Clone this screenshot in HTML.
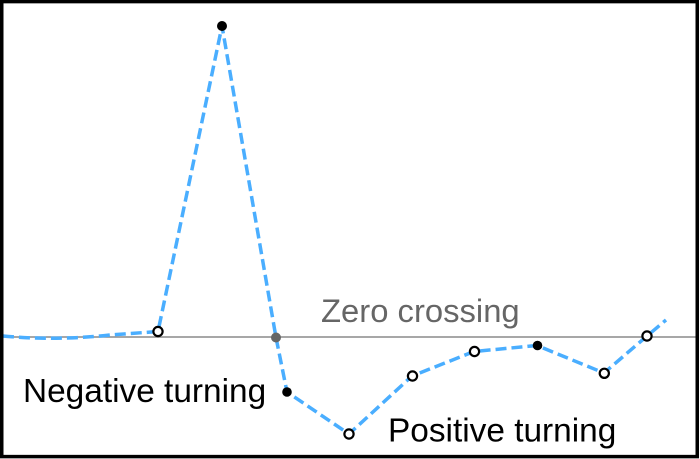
<!DOCTYPE html>
<html>
<head>
<meta charset="utf-8">
<style>
  html, body { margin: 0; padding: 0; background: #ffffff; }
  svg { display: block; }
  text { font-family: "Liberation Sans", Arial, sans-serif; }
</style>
</head>
<body>
<svg width="700" height="459" viewBox="0 0 700 459" xmlns="http://www.w3.org/2000/svg">
  <rect x="0" y="0" width="700" height="459" fill="#ffffff"/>
  <!-- zero line -->
  <line x1="3" y1="337" x2="697" y2="337" stroke="#8a8a8a" stroke-width="1.6"/>
  <!-- series -->
  <path d="M3,336 Q55,341 110,335 L158,331.5 L222,26 L276,337.5 L287,392 L349,434 L412,376 L474,351.5 L537,345.5 L604,373 L647,336 L666,320"
        fill="none" stroke="#4aaeff" stroke-width="3.5" stroke-dasharray="11,5" stroke-linejoin="round"/>
  <!-- markers -->
  <circle cx="158" cy="331.5" r="4.6" fill="#ffffff" stroke="#000" stroke-width="2.2"/>
  <circle cx="222" cy="26" r="5" fill="#000"/>
  <circle cx="276" cy="337.5" r="5" fill="#666"/>
  <circle cx="287" cy="392" r="4.8" fill="#000"/>
  <circle cx="349" cy="434" r="4.6" fill="#ffffff" stroke="#000" stroke-width="2.2"/>
  <circle cx="412.5" cy="376" r="4.6" fill="#ffffff" stroke="#000" stroke-width="2.2"/>
  <circle cx="474.5" cy="351.5" r="4.6" fill="#ffffff" stroke="#000" stroke-width="2.2"/>
  <circle cx="537.5" cy="345.5" r="4.8" fill="#000"/>
  <circle cx="604.3" cy="373.3" r="4.6" fill="#ffffff" stroke="#000" stroke-width="2.2"/>
  <circle cx="647" cy="336" r="4.6" fill="#ffffff" stroke="#000" stroke-width="2.2"/>
  <!-- labels -->
  <text x="321" y="322" font-size="32.8" fill="#666666">Zero crossing</text>
  <text x="23" y="402" font-size="33.4" fill="#000000">Negative turning</text>
  <text x="388" y="441.5" font-size="33.4" fill="#000000">Positive turning</text>
  <!-- frame -->
  <rect x="1.75" y="1.6" width="695.5" height="455" fill="none" stroke="#000" stroke-width="3.5"/>
</svg>
</body>
</html>
